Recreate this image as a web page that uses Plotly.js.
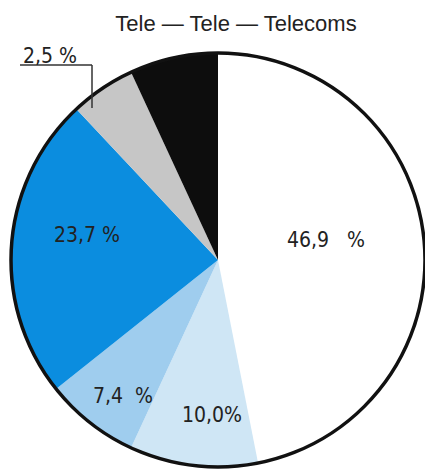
<!DOCTYPE html>
<html>
<head>
<meta charset="utf-8">
<script src="https://cdn.plot.ly/plotly-3.0.1.min.js"></script>
<style>html,body{margin:0;padding:0;background:#fff;}#chart{width:425px;height:472px;}</style>
</head>
<body>
<div id="chart"></div>
<script>
// Data
const categories = ["A", "B", "C", "D", "E", "F"];
const values = [46.9, 10.0, 7.4, 23.7, 5.1, 6.9];
const labelTexts = ["46,9\u00a0\u00a0\u00a0%", "10,0%", "7,4\u00a0\u00a0%", "23,7\u00a0%", "2,5\u00a0%", ""];
const sliceColors = ["#ffffff", "#cfe6f5", "#9fcdee", "#0b8ddf", "#c6c6c6", "#0d0d0d"];
const titleText = "Tele \u2014 Tele \u2014 Telecoms";

// Layout helpers (pixel -> paper)
const W = 425, H = 472;
const px = x => x / W;
const py = y => 1 - y / H;

const cx = 218, cy = 260, r = 207;
const domain = { x: [px(cx - r), Math.min(1, px(cx + r))], y: [py(cy + r), py(cy - r)] };

// label positions (layout only)
const labelPos = [[326, 240], [212, 415], [123, 396], [87, 235], [50, 56], null];

const pie = {
  type: "pie",
  labels: categories,
  values: values,
  sort: false,
  direction: "clockwise",
  rotation: 0,
  textinfo: "none",
  hoverinfo: "none",
  marker: { colors: sliceColors, line: { width: 0 } },
  domain: domain,
  showlegend: false
};
const outline = {
  type: "pie",
  labels: ["outline"],
  values: [1],
  textinfo: "none",
  hoverinfo: "none",
  marker: { colors: ["rgba(0,0,0,0)"], line: { width: 3.5, color: "#111" } },
  domain: domain,
  showlegend: false
};

const annotations = [];
labelTexts.forEach((t, i) => {
  if (!t || !labelPos[i]) return;
  annotations.push({
    text: t, xref: "paper", yref: "paper",
    x: px(labelPos[i][0]), y: py(labelPos[i][1]),
    xanchor: "center", yanchor: "middle", showarrow: false,
    font: { family: "Liberation Sans Narrow, DejaVu Sans Condensed, Liberation Sans, sans-serif", size: 21, color: "#222" }
  });
});

const layout = {
  width: W, height: H,
  margin: { l: 0, r: 0, t: 0, b: 0 },
  paper_bgcolor: "#fff",
  title: {
    text: titleText, x: px(236), xanchor: "center", y: py(23), yanchor: "middle",
    font: { family: "Liberation Sans, Arial, sans-serif", size: 22, color: "#222" }
  },
  annotations: annotations,
  shapes: [
    { type: "line", xref: "paper", yref: "paper", x0: px(20), y0: py(65), x1: px(92), y1: py(65), line: { color: "#333", width: 1.5 } },
    { type: "line", xref: "paper", yref: "paper", x0: px(92), y0: py(65), x1: px(92), y1: py(108), line: { color: "#333", width: 1.5 } }
  ]
};

Plotly.newPlot("chart", [pie, outline], layout, { staticPlot: true, displayModeBar: false });
</script>
</body>
</html>
